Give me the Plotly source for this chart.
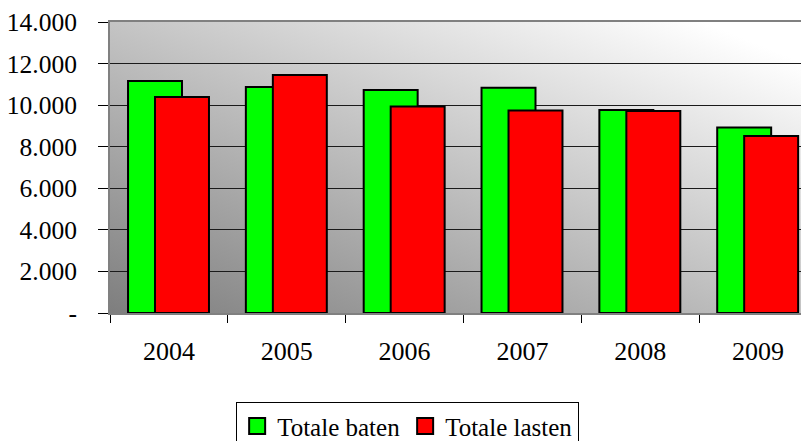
import base64
import plotly.graph_objects as go

years = ["2004", "2005", "2006", "2007", "2008", "2009"]
baten = [11160, 10870, 10730, 10840, 9770, 8920]
lasten = [10390, 11450, 9930, 9740, 9720, 8520]
y_tickvals = [0, 2000, 4000, 6000, 8000, 10000, 12000, 14000]
y_ticktext = ["-", "2.000", "4.000", "6.000", "8.000", "10.000", "12.000", "14.000"]

FONT = "Liberation Serif, Times New Roman, serif"

svg = ('<svg xmlns="http://www.w3.org/2000/svg" width="100" height="100" viewBox="0 0 100 100" '
       'preserveAspectRatio="none"><defs><linearGradient id="g" x1="0" y1="1" x2="1" y2="0">'
       '<stop offset="0" stop-color="#7e7e7e"/><stop offset="0.92" stop-color="#ffffff"/>'
       '<stop offset="1" stop-color="#ffffff"/>'
       '</linearGradient></defs><rect width="100" height="100" fill="url(#g)"/></svg>')
src = "data:image/svg+xml;base64," + base64.b64encode(svg.encode()).decode()

fig = go.Figure()
fig.add_trace(go.Bar(x=years, y=baten, name="Totale baten", marker=dict(color="#00ff00", line=dict(color="black", width=2)),
                     width=0.458, offset=-0.347, showlegend=False))
fig.add_trace(go.Bar(x=years, y=lasten, name="Totale lasten", marker=dict(color="#ff0000", line=dict(color="black", width=2)),
                     width=0.458, offset=-0.118, showlegend=False))
fig.add_trace(go.Scatter(x=[None], y=[None], mode="markers", name="Totale baten",
                         marker=dict(symbol="square", size=16, color="#00ff00", line=dict(color="black", width=2))))
fig.add_trace(go.Scatter(x=[None], y=[None], mode="markers", name="Totale lasten",
                         marker=dict(symbol="square", size=16, color="#ff0000", line=dict(color="black", width=2))))

fig.update_layout(
    width=809, height=441,
    margin=dict(l=102, r=0, t=14, b=136, autoexpand=False),
    barmode="overlay",
    paper_bgcolor="white",
    plot_bgcolor="rgba(0,0,0,0)",
    font=dict(family=FONT, size=26, color="black"),
    images=[dict(source=src, xref="paper", yref="paper", x=0, y=1, sizex=1, sizey=1,
                 xanchor="left", yanchor="top", sizing="stretch", layer="below")],
    xaxis=dict(type="category", range=[-0.5, 5.5], tickson="boundaries", ticks="outside", ticklen=8,
               tickcolor="black", showline=True, linecolor="#808080", linewidth=2, mirror=True,
               showgrid=False, ticklabelstandoff=14, automargin=False, ticklabeloverflow="allow",
               tickfont=dict(family=FONT, size=26)),
    yaxis=dict(range=[0, 14000], tickvals=y_tickvals, ticktext=y_ticktext, ticks="outside", ticklen=10,
               tickcolor="black", showline=True, linecolor="#808080", linewidth=2,
               showgrid=True, gridcolor="#1a1a1a", gridwidth=1, zeroline=False, automargin=False,
               ticklabeloverflow="allow", ticklabelstandoff=16, tickfont=dict(family=FONT, size=25.5)),
    legend=dict(orientation="h", xref="container", yref="container", x=0.494, xanchor="center",
                y=0.106, yanchor="top", bordercolor="black", borderwidth=1, bgcolor="white",
                font=dict(family=FONT, size=25), itemsizing="trace", tracegroupgap=0, itemwidth=30),
)

fig.write_html("out.html")
